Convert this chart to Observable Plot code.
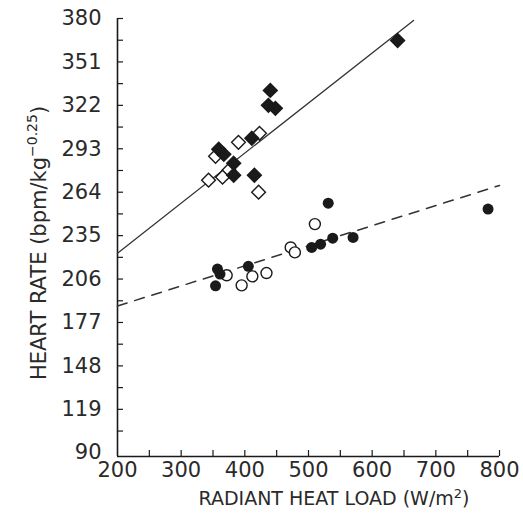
<!DOCTYPE html>
<html><head><meta charset="utf-8">
<script src="https://cdn.jsdelivr.net/npm/d3@7"></script>
<script src="https://cdn.jsdelivr.net/npm/@observablehq/plot@0.6"></script>
<style>body{margin:0;background:#fff}</style>
</head><body><div id="chart"></div>
<script>
const xDomain = [200, 800];
const yDomain = [87.5, 380];
const xTickLabels = [200, 300, 400, 500, 600, 700, 800];
const xTickMarks = [250, 300, 350, 400, 450, 500, 550, 600, 650, 700, 750, 800];
const yTickLabels = [90, 119, 148, 177, 206, 235, 264, 293, 322, 351, 380];
const yTickMarks = [104.5, 119, 133.5, 148, 162.5, 177, 191.5, 206, 220.5, 235, 249.5, 264, 278.5, 293, 307.5, 322, 336.5, 351, 365.5, 380];

const diamondFilledX = [640, 440, 437, 448, 411, 359, 367, 382.5, 382.5, 415];
const diamondFilledY = [365.3, 332, 322, 320, 300, 292.7, 289.3, 283.3, 275.3, 275.3];
const diamondOpenX = [423, 390, 354, 375, 365, 343, 421.6];
const diamondOpenY = [303.3, 297.3, 288, 278.7, 274, 272, 264];

const circleFilledX = [531, 538, 519, 505, 405.5, 357, 361, 354, 570, 782];
const circleFilledY = [256.7, 233.3, 229.3, 227.1, 214.5, 212.7, 209.3, 201.5, 233.8, 252.7];
const circleOpenX = [510, 472, 478.6, 434, 411.8, 395, 371.5];
const circleOpenY = [242.7, 227.1, 223.8, 210, 207.8, 201.8, 208.5];

const solidLineX = [200, 665];
const solidLineY = [223.3, 378.7];
const dashLineX = [200, 800];
const dashLineY = [188, 268.5];

const pts = (xs, ys) => xs.map((x, i) => ({x, y: ys[i]}));
const ink = "#1a1a1a";
const textInk = "#2a2a2a";

const chart = Plot.plot({
  width: 523, height: 518,
  marginLeft: 117, marginRight: 24, marginTop: 18, marginBottom: 62,
  style: {fontFamily: "DejaVu Sans", fontSize: "21px", color: textInk, background: "#fff"},
  x: {domain: xDomain, label: null},
  y: {domain: yDomain, label: null},
  marks: [
    Plot.ruleX([xDomain[0]], {stroke: ink, strokeWidth: 1.6}),
    Plot.ruleY([yDomain[0]], {stroke: ink, strokeWidth: 1.6}),
    Plot.axisY({ticks: yTickMarks, tickSize: 6, dx: 6, fill: "none", stroke: ink, strokeWidth: 1.2, label: null}),
    Plot.axisX({ticks: xTickMarks, tickSize: 6, dy: -6, fill: "none", stroke: ink, strokeWidth: 1.2, label: null}),
    Plot.axisY({ticks: yTickLabels, tickSize: 0, tickPadding: 16, label: null}),
    Plot.axisX({ticks: xTickLabels, tickSize: 0, tickPadding: 6, label: null}),
    Plot.line(pts(solidLineX, solidLineY), {x: "x", y: "y", stroke: "#333", strokeWidth: 1.3}),
    Plot.line(pts(dashLineX, dashLineY), {x: "x", y: "y", stroke: "#333", strokeWidth: 1.5, strokeDasharray: "10,8"}),
    Plot.dot(pts(diamondOpenX, diamondOpenY), {x: "x", y: "y", symbol: "diamond2", r: 6.2, fill: "white", stroke: ink, strokeWidth: 1.4}),
    Plot.dot(pts(diamondFilledX, diamondFilledY), {x: "x", y: "y", symbol: "diamond2", r: 6.2, fill: ink, stroke: ink}),
    Plot.dot(pts(circleOpenX, circleOpenY), {x: "x", y: "y", r: 5.5, fill: "white", stroke: ink, strokeWidth: 1.4}),
    Plot.dot(pts(circleFilledX, circleFilledY), {x: "x", y: "y", r: 5.5, fill: ink})
  ]
});

const svg = d3.select(chart);
const yt = svg.append("text")
  .attr("transform", "translate(46,243) rotate(-90)")
  .attr("text-anchor", "middle")
  .attr("font-family", "DejaVu Sans").attr("font-size", 21).attr("fill", textInk);
yt.append("tspan").text("HEART RATE (bpm/kg");
yt.append("tspan").attr("dy", -9).attr("font-size", 14).text("−0.25");
yt.append("tspan").attr("dy", 9).text(")");

const xt = svg.append("text")
  .attr("x", 334).attr("y", 505)
  .attr("text-anchor", "middle")
  .attr("font-family", "DejaVu Sans").attr("font-size", 19).attr("fill", textInk);
xt.append("tspan").text("RADIANT HEAT LOAD (W/m");
xt.append("tspan").attr("dy", -7).attr("font-size", 13).text("2");
xt.append("tspan").attr("dy", 7).text(")");

document.getElementById("chart").appendChild(chart);
</script>
</body></html>
